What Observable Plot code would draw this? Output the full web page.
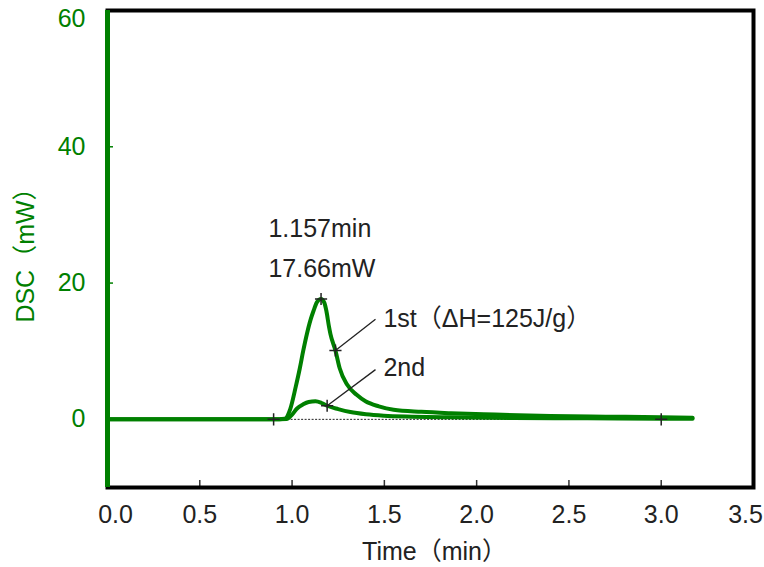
<!DOCTYPE html>
<html><head><meta charset="utf-8">
<script src="https://cdn.jsdelivr.net/npm/d3@7"></script>
<script src="https://cdn.jsdelivr.net/npm/@observablehq/plot@0.6"></script>
<style>body{margin:0;background:#fff} svg{display:block}</style>
</head><body><div id="chart"></div>
<script>
// 1st heating run (time in min, DSC in mW)
const time1 = [0, 0.9, 0.96, 0.99, 1.02, 1.042, 1.06, 1.08, 1.10, 1.116, 1.135, 1.157, 1.175, 1.186, 1.20, 1.208, 1.235, 1.258, 1.298, 1.35, 1.398, 1.47, 1.55, 1.7, 1.86, 2.1, 2.4, 2.7, 3.0, 3.17];
const dsc1  = [0, 0, 0.1, 1.5, 4.8, 7.5, 10.0, 12.5, 14.6, 15.9, 17.2, 17.66, 17.1, 15.9, 13.6, 12.5, 10.1, 7.5, 5.1, 3.6, 2.65, 1.9, 1.4, 1.1, 0.9, 0.7, 0.5, 0.4, 0.3, 0.25];
// 2nd run
const time2 = [0, 0.9, 0.97, 1.0, 1.027, 1.06, 1.09, 1.127, 1.16, 1.19, 1.25, 1.316, 1.4, 1.497, 1.65, 1.86, 2.2, 2.6, 3.0, 3.17];
const dsc2  = [0, 0, 0.05, 0.7, 1.6, 2.2, 2.55, 2.65, 2.4, 2.0, 1.5, 1.07, 0.75, 0.54, 0.4, 0.3, 0.2, 0.15, 0.1, 0.1];

const xTicks = [0, 0.5, 1.0, 1.5, 2.0, 2.5, 3.0, 3.5];
const yTicks = [0, 20, 40, 60];
const xLabel = "Time（min）";
const yLabel = "DSC（mW）";

// baseline (start/end) and marked points
const baseT = [0.9, 3.0];
const markT = [0.9, 3.0, 1.157, 1.235, 1.19];
const markV = [0, 0, 17.66, 10.1, 2.0];

// annotation texts
const annText = ["1.157min", "17.66mW", "1st（ΔH=125J/g）", "2nd"];
const annT = [0.872, 0.872, 1.495, 1.495];
const annV = [27.9, 22.0, 14.7, 7.5];

// leader lines
const arrFromT = [1.452, 1.452];
const arrFromV = [14.7, 7.3];
const arrToT = [1.235, 1.19];
const arrToV = [10.1, 2.0];

const green = "#008000";
const font = `"Liberation Sans", Arial, "Noto Sans CJK JP", sans-serif`;

const run1 = time1.map((t, i) => ({t, v: dsc1[i]}));
const run2 = time2.map((t, i) => ({t, v: dsc2[i]}));
const marks = markT.map((t, i) => ({t, v: markV[i]}));
const ann = annText.map((s, i) => ({s, t: annT[i], v: annV[i]}));
const arrows = arrFromT.map((t, i) => ({x1: t, y1: arrFromV[i], x2: arrToT[i], y2: arrToV[i]}));
const fmt = d3.format(".1f");

const chart = Plot.plot({
  width: 764, height: 567,
  marginLeft: 107, marginRight: 11, marginTop: 10, marginBottom: 80,
  style: {fontFamily: font, fontSize: "25px", background: "#fff", color: "#222"},
  x: {domain: [0, 3.5]},
  y: {domain: [-10, 60]},
  marks: [
    // inward ticks
    Plot.tickX(xTicks.slice(1, -1), {x: d => d, stroke: "#333", strokeWidth: 1.5, insetTop: 470}),
    Plot.tickY(yTicks.slice(1, -1), {y: d => d, stroke: green, strokeWidth: 1.5, insetRight: 640}),
    // baseline
    Plot.ruleY([0], {x1: baseT[0], x2: baseT[1], stroke: "#222", strokeWidth: 1, strokeDasharray: "2,1.5"}),
    // curves
    Plot.lineY(run1, {x: "t", y: "v", stroke: green, strokeWidth: 4, curve: "monotone-x"}),
    Plot.lineY(run2, {x: "t", y: "v", stroke: green, strokeWidth: 4, curve: "monotone-x"}),
    // leader lines and markers
    Plot.link(arrows, {x1: "x1", y1: "y1", x2: "x2", y2: "y2", stroke: "#222", strokeWidth: 1.3}),
    Plot.dot(marks, {x: "t", y: "v", symbol: "plus", r: 4, stroke: "#222", strokeWidth: 1.5}),
    // annotations
    Plot.text(ann, {x: "t", y: "v", text: "s", textAnchor: "start", fill: "#222", fontSize: 25}),
    // frame
    Plot.frame({stroke: "black", strokeWidth: 4}),
    Plot.ruleX([0], {stroke: green, strokeWidth: 5}),
    // x tick labels
    Plot.axisX({ticks: xTicks.slice(1, -1), tickSize: 0, tickPadding: 18, tickFormat: fmt, fontSize: 25, color: "#222", label: null}),
    Plot.axisX({ticks: [xTicks[0]], tickSize: 0, tickPadding: 18, tickFormat: fmt, fontSize: 25, color: "#222", label: null, dx: 8}),
    Plot.axisX({ticks: [xTicks[xTicks.length - 1]], tickSize: 0, tickPadding: 18, tickFormat: fmt, fontSize: 25, color: "#222", label: null, dx: -8}),
    // y tick labels
    Plot.axisY({ticks: yTicks.slice(0, -1), tickSize: 0, tickPadding: 22, fontSize: 25, color: green, label: null}),
    Plot.axisY({ticks: [yTicks[yTicks.length - 1]], tickSize: 0, tickPadding: 22, fontSize: 25, color: green, label: null, dy: 8}),
    // axis titles
    Plot.text([xLabel], {frameAnchor: "bottom", dy: 64, dx: 4, text: d => d, fill: "#222", fontSize: 25, lineAnchor: "middle", textAnchor: "middle"}),
    Plot.text([yLabel], {frameAnchor: "left", dx: -82, rotate: -90, text: d => d, fill: green, fontSize: 25, textAnchor: "middle"})
  ]
});
document.getElementById("chart").append(chart);
</script>
</body></html>
